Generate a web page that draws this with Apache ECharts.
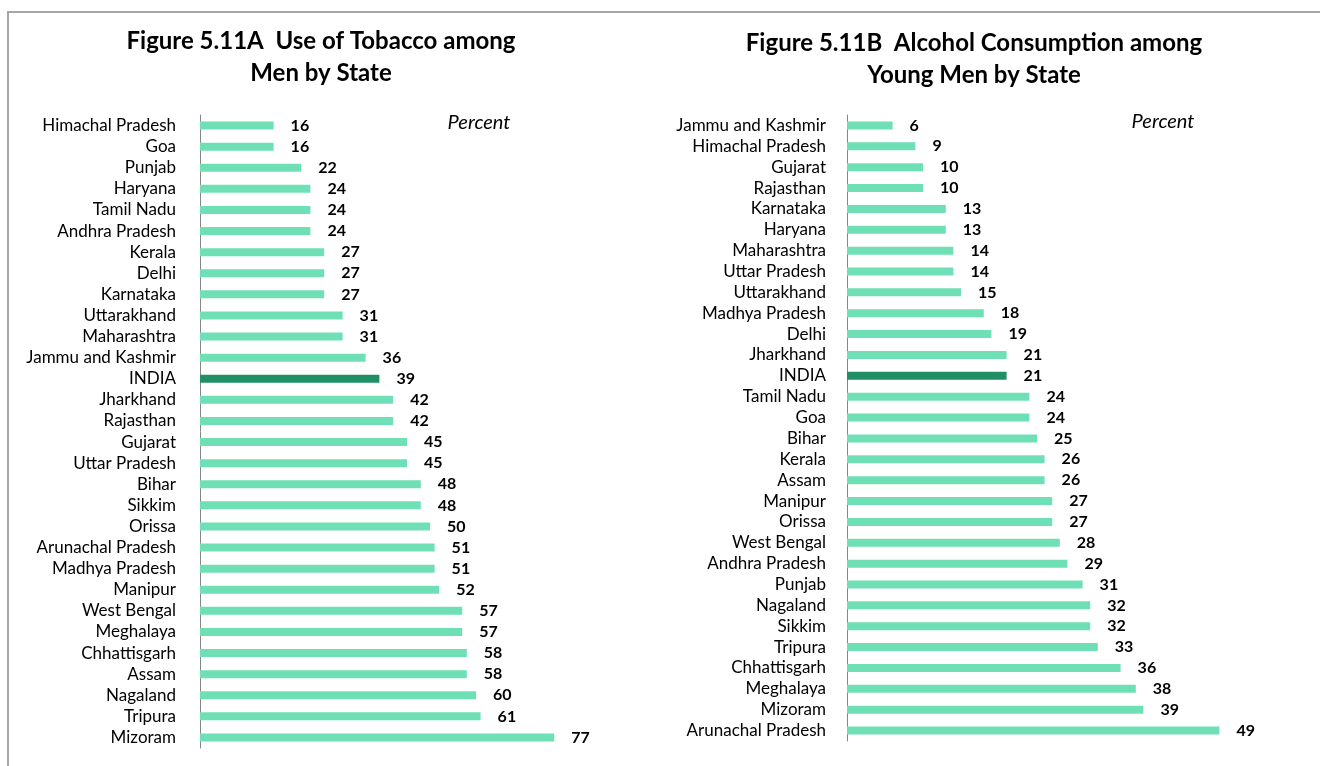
<!DOCTYPE html>
<html>
<head>
<meta charset="utf-8">
<script src="https://cdn.jsdelivr.net/npm/echarts@6/dist/echarts.min.js"></script>
<style>
  html, body { margin: 0; padding: 0; background: #fff; }
  #chart { width: 1320px; height: 766px; }
</style>
</head>
<body>
<div id="chart"></div>
<script>
// Figure 5.11A - tobacco use among men
const tobaccoStates = ['Himachal Pradesh', 'Goa', 'Punjab', 'Haryana', 'Tamil Nadu', 'Andhra Pradesh',
  'Kerala', 'Delhi', 'Karnataka', 'Uttarakhand', 'Maharashtra', 'Jammu and Kashmir', 'INDIA',
  'Jharkhand', 'Rajasthan', 'Gujarat', 'Uttar Pradesh', 'Bihar', 'Sikkim', 'Orissa',
  'Arunachal Pradesh', 'Madhya Pradesh', 'Manipur', 'West Bengal', 'Meghalaya', 'Chhattisgarh',
  'Assam', 'Nagaland', 'Tripura', 'Mizoram'];
const tobaccoValues = [16, 16, 22, 24, 24, 24, 27, 27, 27, 31, 31, 36, 39, 42, 42, 45, 45, 48, 48, 50,
  51, 51, 52, 57, 57, 58, 58, 60, 61, 77];

// Figure 5.11B - alcohol consumption among young men
const alcoholStates = ['Jammu and Kashmir', 'Himachal Pradesh', 'Gujarat', 'Rajasthan', 'Karnataka',
  'Haryana', 'Maharashtra', 'Uttar Pradesh', 'Uttarakhand', 'Madhya Pradesh', 'Delhi', 'Jharkhand',
  'INDIA', 'Tamil Nadu', 'Goa', 'Bihar', 'Kerala', 'Assam', 'Manipur', 'Orissa', 'West Bengal',
  'Andhra Pradesh', 'Punjab', 'Nagaland', 'Sikkim', 'Tripura', 'Chhattisgarh', 'Meghalaya',
  'Mizoram', 'Arunachal Pradesh'];
const alcoholValues = [6, 9, 10, 10, 13, 13, 14, 14, 15, 18, 19, 21, 21, 24, 24, 25, 26, 26, 27, 27,
  28, 29, 31, 32, 32, 33, 36, 38, 39, 49];

const FONT = 'Lato, "Open Sans", sans-serif';
const LIGHT = '#6fe0b5';
const DARK = '#218f66';

// colour INDIA darker than the states
const toBars = (states, values) => values.map((v, i) => ({
  value: v,
  itemStyle: { color: states[i] === 'INDIA' ? DARK : LIGHT }
}));

const titleStyle = { fontFamily: FONT, fontSize: 24, fontWeight: 'bold', color: '#000', lineHeight: 32 };
const percentStyle = { fontFamily: FONT, fontSize: 20, fontStyle: 'italic', fontWeight: 'normal', color: '#000' };

const catAxis = (gridIndex, data, margin) => ({
  type: 'category',
  gridIndex: gridIndex,
  data: data,
  inverse: true,
  axisLine: { lineStyle: { color: '#868686', width: 1 } },
  axisTick: { length: 5, lineStyle: { color: '#868686' } },
  axisLabel: { interval: 0, fontFamily: FONT, fontSize: 17, color: '#000', margin: margin }
});

const valAxis = (gridIndex, max) => ({
  type: 'value',
  gridIndex: gridIndex,
  min: 0,
  max: max,
  show: false
});

const barSeries = (idx, states, values) => ({
  type: 'bar',
  xAxisIndex: idx,
  yAxisIndex: idx,
  barWidth: 8,
  data: toBars(states, values),
  label: {
    show: true,
    position: 'right',
    distance: 17,
    fontFamily: FONT,
    fontSize: 16,
    fontWeight: 'bold',
    color: '#000'
  }
});

const chart = echarts.init(document.getElementById('chart'));
chart.setOption({
  animation: false,
  title: [
    { text: 'Figure 5.11A  Use of Tobacco among\nMen by State', left: 316, top: 20, textAlign: 'center', textStyle: titleStyle },
    { text: 'Figure 5.11B  Alcohol Consumption among\nYoung Men by State', left: 969, top: 22, textAlign: 'center', textStyle: titleStyle },
    { text: 'Percent', left: 474, top: 108, textAlign: 'center', textStyle: percentStyle },
    { text: 'Percent', left: 1158, top: 107, textAlign: 'center', textStyle: percentStyle }
  ],
  graphic: [{
    type: 'rect',
    shape: { x: 8, y: 12, width: 1400, height: 800 },
    style: { fill: 'none', stroke: '#a6a6a6', lineWidth: 2 },
    silent: true
  }],
  grid: [
    { left: 200, top: 115, width: 460, height: 633 },
    { left: 847, top: 115, width: 456, height: 626 }
  ],
  xAxis: [valAxis(0, 100), valAxis(1, 60)],
  yAxis: [catAxis(0, tobaccoStates, 24), catAxis(1, alcoholStates, 21)],
  series: [
    barSeries(0, tobaccoStates, tobaccoValues),
    barSeries(1, alcoholStates, alcoholValues)
  ]
});
</script>
</body>
</html>
